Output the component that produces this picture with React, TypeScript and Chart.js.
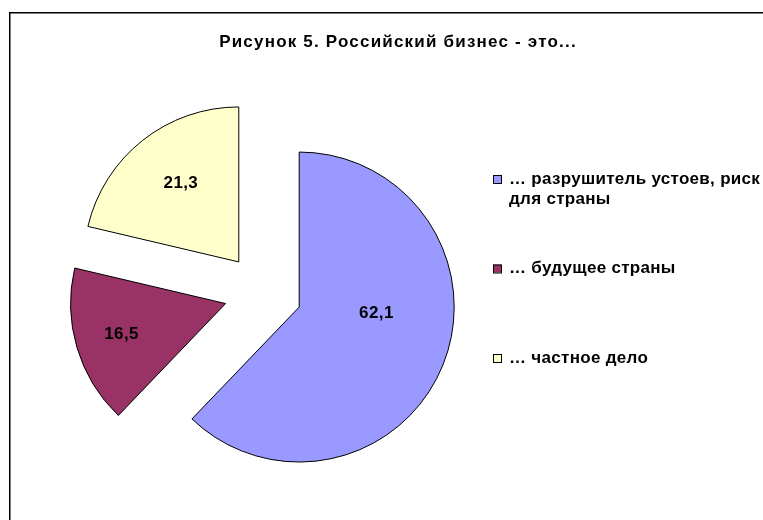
import React, { useEffect, useRef } from 'react';
import { Chart, registerables } from 'chart.js';

Chart.register(...registerables);

const TITLE = 'Рисунок 5. Российский бизнес - это...';
const categories = ['… разрушитель устоев, риск для страны', '… будущее страны', '… частное дело'];
const values = [62.1, 16.5, 21.3];
const colors = ['#9999FF', '#993366', '#FFFFCC'];

const FONT = '"Liberation Sans", Arial, sans-serif';
const EXPLODE = 39;
const LABEL_RADIUS = [0.5, 0.7, 0.63];
const LABEL_ANGLE_SHIFT = [-17, 0, 2];

const framePlugin = {
  id: 'frame',
  beforeDraw(chart: any) {
    const ctx = chart.ctx;
    ctx.save();
    ctx.fillStyle = '#ffffff';
    ctx.fillRect(0, 0, chart.width, chart.height);
    ctx.strokeStyle = '#000000';
    ctx.lineWidth = 1.5;
    ctx.strokeRect(9.75, 12.75, chart.width + 100, chart.height + 100);
    ctx.fillStyle = '#000000';
    ctx.font = `bold 17px ${FONT}`;
    (ctx as any).letterSpacing = '1.2px';
    ctx.textAlign = 'center';
    ctx.textBaseline = 'middle';
    ctx.fillText(TITLE, 398, 42);
    ctx.restore();
  },
};

const explodePlugin = {
  id: 'explode',
  beforeDatasetDraw(chart: any, args: any) {
    const ctx = chart.ctx;
    args.meta.data.forEach((arc: any) => {
      const mid = (arc.startAngle + arc.endAngle) / 2;
      ctx.save();
      ctx.translate(Math.cos(mid) * EXPLODE, Math.sin(mid) * EXPLODE);
      arc.draw(ctx);
      ctx.restore();
    });
    return false;
  },
};

const valueLabelPlugin = {
  id: 'valueLabels',
  afterDatasetsDraw(chart: any) {
    const ctx = chart.ctx;
    const meta = chart.getDatasetMeta(0);
    const data = chart.data.datasets[0].data as number[];
    ctx.save();
    ctx.font = `bold 17px ${FONT}`;
    (ctx as any).letterSpacing = '0.4px';
    ctx.fillStyle = '#000000';
    ctx.textAlign = 'center';
    ctx.textBaseline = 'middle';
    meta.data.forEach((arc: any, i: number) => {
      const mid = (arc.startAngle + arc.endAngle) / 2;
      const ang = mid + (LABEL_ANGLE_SHIFT[i] * Math.PI) / 180;
      const r = arc.outerRadius * LABEL_RADIUS[i];
      const x = arc.x + Math.cos(mid) * EXPLODE + Math.cos(ang) * r;
      const y = arc.y + Math.sin(mid) * EXPLODE + Math.sin(ang) * r;
      ctx.fillText(String(data[i]).replace('.', ','), x, y);
    });
    ctx.restore();
  },
};

function wrap(ctx: CanvasRenderingContext2D, text: string, maxW: number): string[] {
  const words = text.split(' ');
  const lines: string[] = [];
  let cur = '';
  words.forEach((w) => {
    const test = cur ? cur + ' ' + w : w;
    if (ctx.measureText(test).width > maxW && cur) {
      lines.push(cur);
      cur = w;
    } else {
      cur = test;
    }
  });
  if (cur) lines.push(cur);
  return lines;
}

const legendPlugin = {
  id: 'customLegend',
  afterDraw(chart: any) {
    const ctx = chart.ctx;
    const labels = chart.data.labels as string[];
    const bg = chart.data.datasets[0].backgroundColor as string[];
    const boxX = 493;
    const textX = 509;
    const firstY = 179;
    const pitch = 89.5;
    const lineH = 20;
    ctx.save();
    ctx.font = `bold 17px ${FONT}`;
    (ctx as any).letterSpacing = '0.3px';
    ctx.textAlign = 'left';
    ctx.textBaseline = 'middle';
    labels.forEach((lab, i) => {
      const y = firstY + pitch * i;
      ctx.fillStyle = bg[i];
      ctx.fillRect(boxX, y - 4, 8, 8);
      ctx.strokeStyle = '#000000';
      ctx.lineWidth = 1;
      ctx.strokeRect(boxX + 0.5, y - 3.5, 8, 8);
      ctx.fillStyle = '#000000';
      const lines = wrap(ctx, lab, 262);
      lines.forEach((ln, k) => {
        ctx.fillText(ln, textX, y + k * lineH);
      });
    });
    ctx.restore();
  },
};

export default function App() {
  const ref = useRef<HTMLCanvasElement | null>(null);
  useEffect(() => {
    if (!ref.current) return;
    const chart = new Chart(ref.current, {
      type: 'pie',
      data: {
        labels: categories,
        datasets: [
          {
            data: values,
            backgroundColor: colors,
            borderColor: '#000000',
            borderWidth: 1,
            radius: 155,
          } as any,
        ],
      },
      options: {
        animation: false,
        responsive: false,
        events: [],
        rotation: 0,
        layout: { padding: { left: 30, right: 294, top: 100, bottom: 55 } },
        plugins: {
          legend: { display: false },
          tooltip: { enabled: false },
          title: { display: false },
        },
      },
      plugins: [framePlugin, explodePlugin, valueLabelPlugin, legendPlugin],
    });
    return () => chart.destroy();
  }, []);
  return (
    <div style={{ position: 'fixed', left: 0, top: 0, width: 763, height: 520, overflow: 'hidden', background: '#fff' }}>
      <canvas ref={ref} width={790} height={540} style={{ display: 'block', width: 790, height: 540 }} />
    </div>
  );
}
